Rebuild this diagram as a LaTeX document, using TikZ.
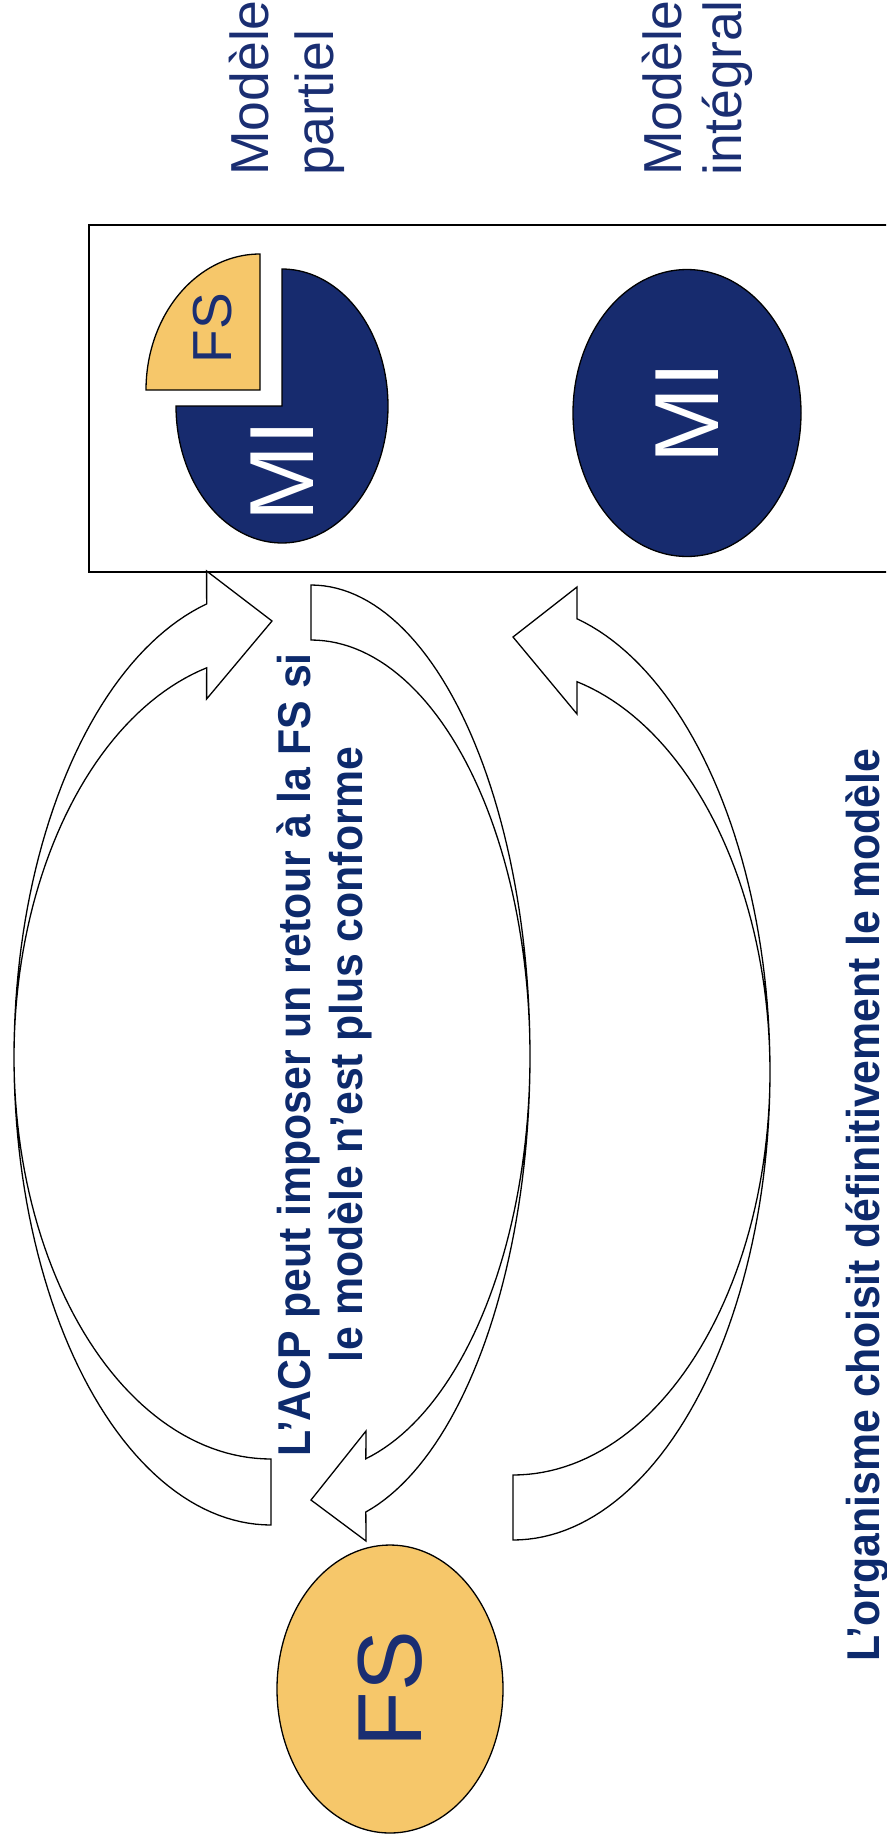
\documentclass[tikz,border=0pt]{standalone}
\usepackage{fontspec}
\setmainfont{Liberation Sans}
\usetikzlibrary{shapes.geometric}
\definecolor{navy}{HTML}{172B6E}
\definecolor{navytext}{HTML}{1A2E72}
\definecolor{notetext}{HTML}{0D2A6C}
\definecolor{fsyellow}{HTML}{F6C76A}
\begin{document}
\begin{tikzpicture}[x=1pt,y=-1pt,
  outline/.style={draw=black,line width=1.3pt,line join=miter},
  blockarrow/.style={outline,fill=white},
  miblob/.style={outline,fill=navy},
  fsblob/.style={outline,fill=fsyellow},
  bigletters/.style={rotate=90,inner sep=0pt,font=\fontsize{91}{100}\selectfont},
  titleline/.style={rotate=90,inner sep=0pt,anchor=base west,text=navytext,font=\fontsize{53.5}{64}\selectfont},
  boldnote/.style={rotate=90,inner sep=0pt,anchor=base,text=notetext,font=\bfseries\fontsize{46}{52}\selectfont}]

\useasboundingbox (0,0) rectangle (886,1835);
\clip (0,0) rectangle (886,1835);

% frame around the two models
\draw[outline] (89,225) rectangle (900,572);

% partial model: MI with a quarter removed, and the FS wedge
\draw[miblob] (282,406) -- plot[domain=270:540,samples=120] ({282+106*cos(\x)},{406+137*sin(\x)}) -- cycle;
\draw[fsblob] (260,390) -- plot[domain=180:270,samples=60] ({260+114*cos(\x)},{390+136*sin(\x)}) -- cycle;
\node[bigletters,text=white] (mi1) at (282,471) {MI};
\node[rotate=90,inner sep=0pt,text=navytext,font=\fontsize{55}{60}\selectfont] (fs1) at (213,328) {FS};

% integral model
\node[miblob,ellipse,rotate=90,minimum width=287pt,minimum height=228pt,inner sep=0pt,text=white,font=\fontsize{91}{100}\selectfont] (mi2) at (687,413) {MI};

% FS ellipse
\node[fsblob,ellipse,rotate=90,minimum width=288pt,minimum height=226pt,inner sep=0pt,text=navytext,font=\fontsize{91}{100}\selectfont] (fs2) at (390,1689) {FS};

% curved block arrow A (FS -> partial model)
\draw[blockarrow] plot[domain=90:255.5,samples=100] ({271+257*cos(\x)},{1057+468*sin(\x)})
  -- (206.6,571) -- (272,621) -- (206.6,699)
  -- plot[domain=255.5:90,samples=100] ({271+257*cos(\x)},{1057+402*sin(\x)}) -- cycle;

% curved block arrow B (partial model -> FS)
\draw[blockarrow] plot[domain=270:435.5,samples=100] ({311+219*cos(\x)},{1056+471*sin(\x)})
  -- (366,1541) -- (311,1500) -- (366,1431)
  -- plot[domain=435.5:270,samples=100] ({311+219*cos(\x)},{1056+416*sin(\x)}) -- cycle;

% curved block arrow C (FS -> integral model)
\draw[blockarrow] plot[domain=90:-75.6,samples=100] ({513+257*cos(\x)},{1072+468*sin(\x)})
  -- (577,587) -- (513,637) -- (577,714)
  -- plot[domain=-75.6:90,samples=100] ({513+257*cos(\x)},{1072+403*sin(\x)}) -- cycle;

% titles
\node[titleline] (t1a) at (268,176) {Modèle};
\node[titleline] (t1b) at (333,176) {partiel};
\node[titleline] (t2a) at (681,176) {Modèle};
\node[titleline] (t2b) at (741,176) {intégral};

% notes
\node[boldnote] (acp1) at (310,1055) {\scalebox{0.93}[1]{L’ACP peut imposer un retour à la FS si}};
\node[boldnote] (acp2) at (362,1055) {\scalebox{0.93}[1]{le modèle n’est plus conforme}};
\node[boldnote,anchor=base west] (org) at (879,1662) {\scalebox{0.93}[1]{L’organisme choisit définitivement le modèle}};
\end{tikzpicture}
\end{document}
